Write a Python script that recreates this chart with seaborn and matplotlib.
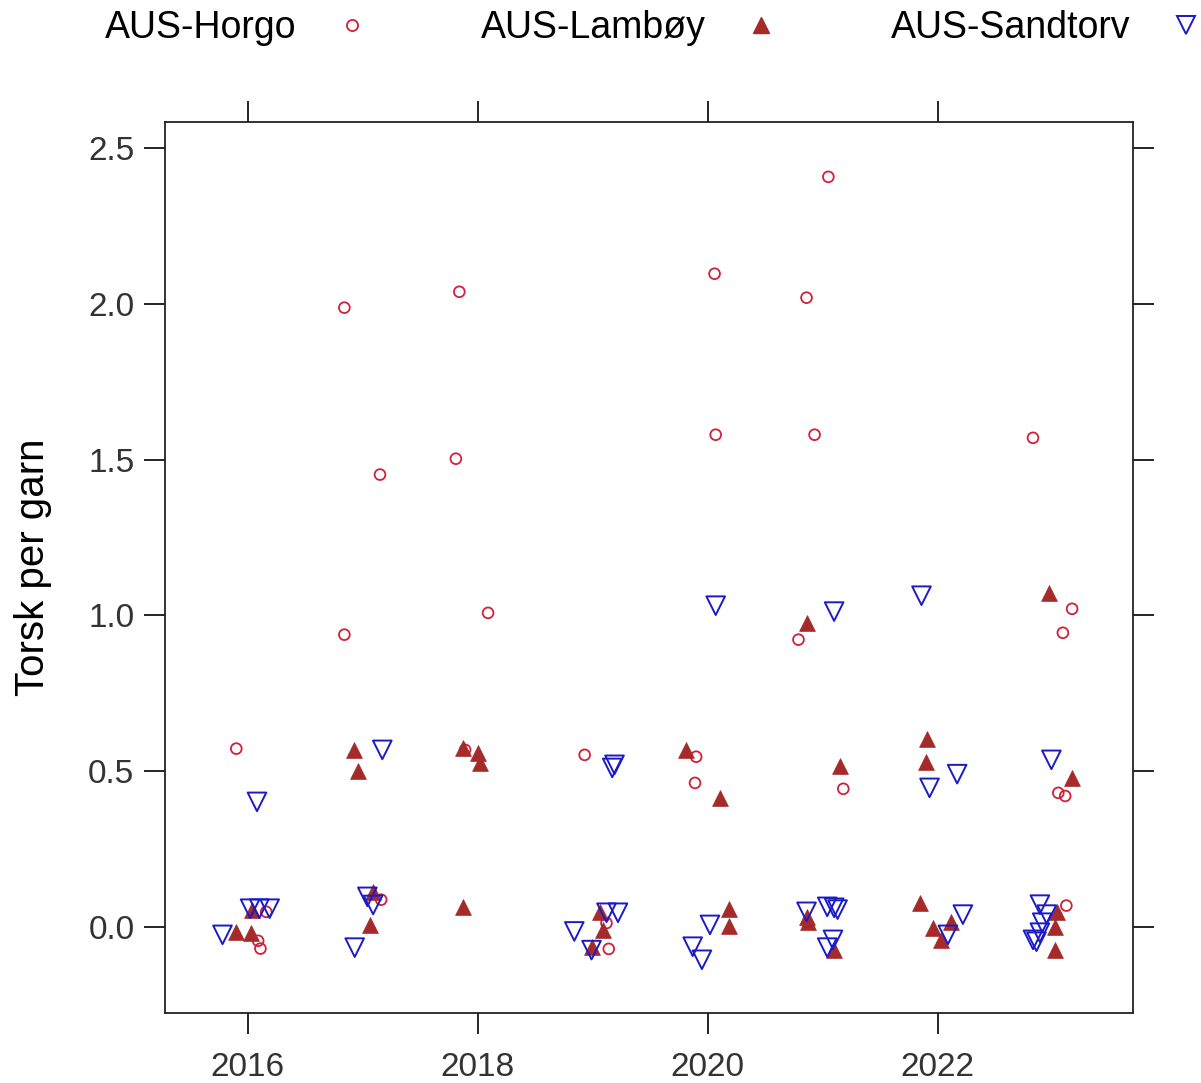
import matplotlib
matplotlib.use('Agg')
import matplotlib.pyplot as plt
from matplotlib.lines import Line2D
import seaborn as sns
import pandas as pd

# points (x = jittered year, y = torsk per garn)
horgo_x = [2015.90, 2016.16, 2016.09, 2016.11, 2016.84, 2016.84, 2017.15, 2017.16,
           2017.81, 2017.84, 2018.09, 2017.89, 2018.93, 2019.14, 2019.12, 2019.89,
           2019.90, 2020.06, 2020.07, 2020.86, 2020.93, 2021.05, 2020.79, 2021.18,
           2022.83, 2023.17, 2023.09, 2023.05, 2023.11, 2023.12]
horgo_y = [0.572, 0.048, -0.045, -0.070, 1.988, 0.938, 1.452, 0.087,
           1.503, 2.039, 1.008, 0.568, 0.552, -0.071, 0.012, 0.462,
           0.546, 2.097, 1.580, 2.020, 1.580, 2.408, 0.922, 0.443,
           1.570, 1.021, 0.944, 0.430, 0.420, 0.068]

lamboy_x = [2015.90, 2016.03, 2016.04, 2016.92, 2016.96, 2017.09, 2017.06,
            2017.87, 2018.00, 2018.02, 2017.87, 2019.06, 2019.09, 2018.99,
            2019.81, 2020.11, 2020.19, 2020.19, 2020.86, 2021.15, 2020.86,
            2020.87, 2021.10, 2021.91, 2021.90, 2021.85, 2021.96, 2022.12,
            2022.03, 2022.97, 2023.17, 2023.04, 2023.02, 2023.02]
lamboy_y = [-0.016, -0.020, 0.055, 0.568, 0.500, 0.112, 0.006,
            0.575, 0.559, 0.527, 0.064, 0.048, -0.010, -0.064,
            0.568, 0.414, 0.058, 0.003, 0.976, 0.517, 0.032,
            0.016, -0.074, 0.604, 0.530, 0.077, -0.003, 0.016,
            -0.042, 1.073, 0.479, 0.048, 0.000, -0.074]

sandtorv_x = [2016.08, 2015.78, 2016.02, 2016.10, 2016.19, 2017.17, 2017.04,
              2017.09, 2016.93, 2019.19, 2019.17, 2018.84, 2018.99, 2019.12,
              2019.22, 2020.07, 2020.02, 2019.87, 2019.95, 2021.10, 2020.86,
              2021.04, 2021.10, 2021.13, 2021.09, 2021.04, 2021.86, 2021.93,
              2022.17, 2022.22, 2022.09, 2022.99, 2022.89, 2022.95, 2022.91,
              2022.89, 2022.83, 2022.86]
sandtorv_y = [0.401, -0.026, 0.058, 0.058, 0.058, 0.568, 0.096,
              0.070, -0.067, 0.520, 0.510, -0.015, -0.075, 0.045,
              0.045, 1.031, 0.006, -0.064, -0.106, 1.012, 0.048,
              0.064, 0.061, 0.055, -0.042, -0.067, 1.063, 0.446,
              0.490, 0.039, -0.026, 0.536, 0.071, 0.039, 0.013,
              -0.019, -0.042, -0.048]

stations = ['AUS-Horgo', 'AUS-Lambøy', 'AUS-Sandtorv']
col_horgo = '#D0203A'
col_lamboy = '#A52A2A'
col_sandtorv = '#1A1AC8'

sns.set_theme(style='white')
plt.rcParams['font.family'] = ['Liberation Sans', 'DejaVu Sans']

fig = plt.figure(figsize=(12.01, 10.83), dpi=100)
ax = fig.add_axes([0.1374, 0.0646, 0.806, 0.8227])

# horgo: small open circles
sns.scatterplot(x=horgo_x, y=horgo_y, ax=ax, marker='o', s=60,
                facecolors='none', edgecolors=col_horgo, linewidths=1.3)
# lamboy: filled triangles
sns.scatterplot(x=lamboy_x, y=lamboy_y, ax=ax, marker='^', s=130,
                color=col_lamboy, edgecolor=col_lamboy, linewidth=0.5)
# sandtorv: open down triangles
sns.scatterplot(x=sandtorv_x, y=sandtorv_y, ax=ax, marker='v', s=180,
                facecolors='none', edgecolors=col_sandtorv, linewidths=1.4)

ax.set_xlim(2015.28, 2023.70)
ax.set_ylim(-0.277, 2.584)
ax.set_xticks([2016, 2018, 2020, 2022])
ax.set_yticks([0.0, 0.5, 1.0, 1.5, 2.0, 2.5])
ax.set_yticklabels(['0.0', '0.5', '1.0', '1.5', '2.0', '2.5'])
ax.tick_params(axis='both', which='both', direction='out', length=15, width=1.2,
               color='black', labelsize=24, labelcolor='#333333',
               top=True, right=True, bottom=True, left=True,
               labeltop=False, labelright=False)
ax.tick_params(axis='x', pad=13)
ax.tick_params(axis='y', pad=7)
for sp in ax.spines.values():
    sp.set_color('#222222')
    sp.set_linewidth(1.3)
ax.set_xlabel('')
ax.set_ylabel('Torsk per garn', fontsize=29, color='black', labelpad=26)

handles = [
    Line2D([], [], linestyle='none', marker='o', markersize=8, markerfacecolor='none',
           markeredgecolor=col_horgo, markeredgewidth=1.3),
    Line2D([], [], linestyle='none', marker='^', markersize=11, color=col_lamboy),
    Line2D([], [], linestyle='none', marker='v', markersize=13, markerfacecolor='none',
           markeredgecolor=col_sandtorv, markeredgewidth=1.4),
]
leg = fig.legend(handles, stations, loc='center', bbox_to_anchor=(0.545, 0.974), ncol=3,
                 markerfirst=False, frameon=False, fontsize=27, handletextpad=0.98,
                 columnspacing=2.95, handlelength=1.0)
for t in leg.get_texts():
    t.set_color('black')

fig.savefig('out.png', dpi=100, facecolor='white')
